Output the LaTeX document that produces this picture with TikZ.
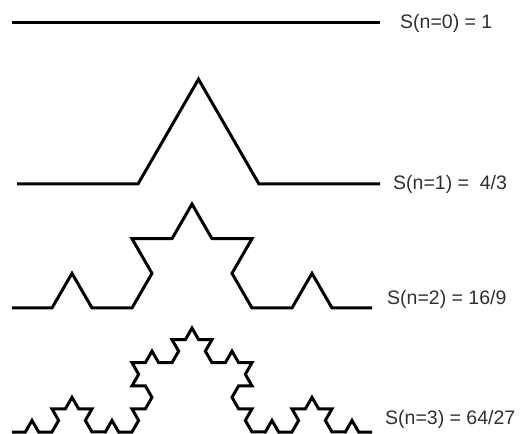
\documentclass[tikz,border=0pt]{standalone}
\usepackage{fontspec}
\setmainfont{Liberation Sans}
\usepackage{xcolor}
\usepackage{tikz}
\usetikzlibrary{decorations.fractals}
\definecolor{texto}{RGB}{48,48,48}

\begin{document}
\begin{tikzpicture}[
  x=1pt, y=1pt,
  curva/.style={draw=black, line width=3pt, line join=miter},
  etiqueta/.style={anchor=west, inner sep=0pt, text=texto, font=\fontsize{19.5}{23}\selectfont},
  decoration=Koch snowflake
]
\useasboundingbox (0,0) rectangle (521,433);

% extremos de cada nivel
\coordinate (n0a) at (12,410);
\coordinate (n0b) at (380,410);
\coordinate (n1a) at (17,249);
\coordinate (n1b) at (380,249);
\coordinate (n2a) at (12,125);
\coordinate (n2b) at (372,125);
\coordinate (n3a) at (12,1);
\coordinate (n3b) at (372,1);

\draw[curva] (n0a) -- (n0b);
\draw[curva] decorate{ (n1a) -- (n1b) };
\draw[curva] decorate{ decorate{ (n2a) -- (n2b) } };
\draw[curva] decorate{ decorate{ decorate{ (n3a) -- (n3b) } } };

\node[etiqueta] (s0) at (400,410) {S(n=0) = 1};
\node[etiqueta] (s1) at (393,249) {S(n=1) = \ 4/3};
\node[etiqueta] (s2) at (387,134) {S(n=2) = 16/9};
\node[etiqueta] (s3) at (385,14)  {S(n=3) = 64/27};
\end{tikzpicture}
\end{document}
